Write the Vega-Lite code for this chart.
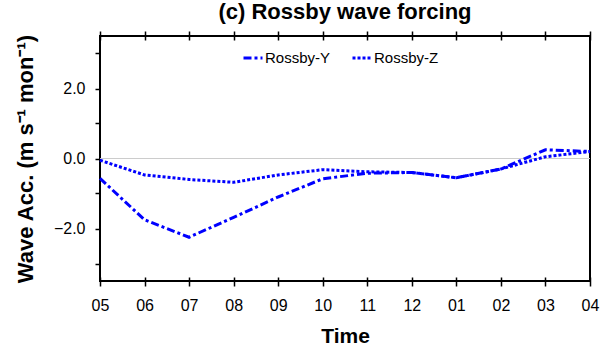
{
  "$schema": "https://vega.github.io/schema/vega-lite/v6.json",
  "width": 490,
  "height": 245,
  "autosize": {"type": "none"},
  "padding": {"left": 100, "top": 36, "right": 14, "bottom": 72},
  "background": "white",
  "config": {
    "font": "Liberation Sans",
    "view": {"stroke": "black", "strokeWidth": 2},
    "axis": {"grid": false, "domain": false, "tickColor": "black", "labelColor": "black", "titleColor": "black", "labelFont": "Liberation Sans", "titleFont": "Liberation Sans"},
    "axisY": {"title": "Wave Acc. (m s⁻¹ mon⁻¹)", "titleFontSize": 22, "titleFontWeight": "bold", "titlePadding": 16,
      "values": [-3.5, -3, -2.5, -2, -1.5, -1, -0.5, 0, 0.5, 1, 1.5, 2, 2.5, 3, 3.5],
      "labelExpr": "(datum.value == 2 || datum.value == 0 || datum.value == -2) ? format(datum.value, '.1f') : ''",
      "labelFontSize": 16, "labelPadding": 10, "tickSize": 5, "tickWidth": 1.5}
  },
  "title": {"text": "(c) Rossby wave forcing", "fontSize": 22, "fontWeight": "bold", "font": "Liberation Sans", "anchor": "middle", "offset": 6, "color": "black"},
  "data": {"values": [
    {"month": "05", "series": "Rossby-Y", "value": -0.57},
    {"month": "06", "series": "Rossby-Y", "value": -1.75},
    {"month": "07", "series": "Rossby-Y", "value": -2.25},
    {"month": "08", "series": "Rossby-Y", "value": -1.68},
    {"month": "09", "series": "Rossby-Y", "value": -1.1},
    {"month": "10", "series": "Rossby-Y", "value": -0.58},
    {"month": "11", "series": "Rossby-Y", "value": -0.42},
    {"month": "12", "series": "Rossby-Y", "value": -0.4},
    {"month": "01", "series": "Rossby-Y", "value": -0.55},
    {"month": "02", "series": "Rossby-Y", "value": -0.3},
    {"month": "03", "series": "Rossby-Y", "value": 0.25},
    {"month": "04", "series": "Rossby-Y", "value": 0.2},
    {"month": "05", "series": "Rossby-Z", "value": -0.05},
    {"month": "06", "series": "Rossby-Z", "value": -0.47},
    {"month": "07", "series": "Rossby-Z", "value": -0.6},
    {"month": "08", "series": "Rossby-Z", "value": -0.68},
    {"month": "09", "series": "Rossby-Z", "value": -0.47},
    {"month": "10", "series": "Rossby-Z", "value": -0.32},
    {"month": "11", "series": "Rossby-Z", "value": -0.38},
    {"month": "12", "series": "Rossby-Z", "value": -0.4},
    {"month": "01", "series": "Rossby-Z", "value": -0.55},
    {"month": "02", "series": "Rossby-Z", "value": -0.3},
    {"month": "03", "series": "Rossby-Z", "value": 0.05},
    {"month": "04", "series": "Rossby-Z", "value": 0.2}
  ]},
  "layer": [
    {
      "mark": {"type": "rule", "color": "#cccccc", "strokeWidth": 1.2},
      "encoding": {
        "y": {"datum": 0, "type": "quantitative", "scale": {"domain": [-3.5, 3.5], "nice": false, "zero": false}, "title": "Wave Acc. (m s⁻¹ mon⁻¹)"}
      }
    },
    {
      "mark": {"type": "line", "color": "#0000ff", "strokeWidth": 3},
      "encoding": {
        "x": {"field": "month", "type": "ordinal", "sort": null, "scale": {"type": "point", "padding": 0},
          "axis": {"orient": "bottom", "title": "Time", "titleFontSize": 21, "titleFontWeight": "bold", "titlePadding": 12, "labelFontSize": 16, "labelAngle": 0, "labelPadding": 11, "tickSize": 9, "tickWidth": 1.5, "offset": -4}},
        "y": {"field": "value", "type": "quantitative", "scale": {"domain": [-3.5, 3.5], "nice": false, "zero": false}, "title": "Wave Acc. (m s⁻¹ mon⁻¹)"},
        "strokeDash": {"field": "series", "type": "nominal",
          "scale": {"domain": ["Rossby-Y", "Rossby-Z"], "range": [[8, 3, 3, 3], [3, 2]]},
          "legend": {"title": null, "orient": "none", "legendX": 142, "legendY": 11, "direction": "horizontal",
            "symbolType": "stroke", "symbolSize": 361, "symbolStrokeWidth": 3, "symbolStrokeColor": "#0000ff",
            "labelFontSize": 15, "labelOffset": 1, "columnPadding": 15, "labelColor": "black", "labelFont": "Liberation Sans"}}
      }
    },
    {
      "mark": {"type": "point", "opacity": 0},
      "encoding": {
        "x": {"field": "month", "type": "ordinal", "sort": null, "scale": {"type": "point", "padding": 0},
          "axis": {"orient": "top", "title": null, "labels": false, "tickSize": 9, "tickWidth": 1.5, "offset": -4}},
        "y": {"field": "value", "type": "quantitative", "title": "Wave Acc. (m s⁻¹ mon⁻¹)"}
      }
    }
  ],
  "resolve": {"axis": {"x": "independent"}}
}
